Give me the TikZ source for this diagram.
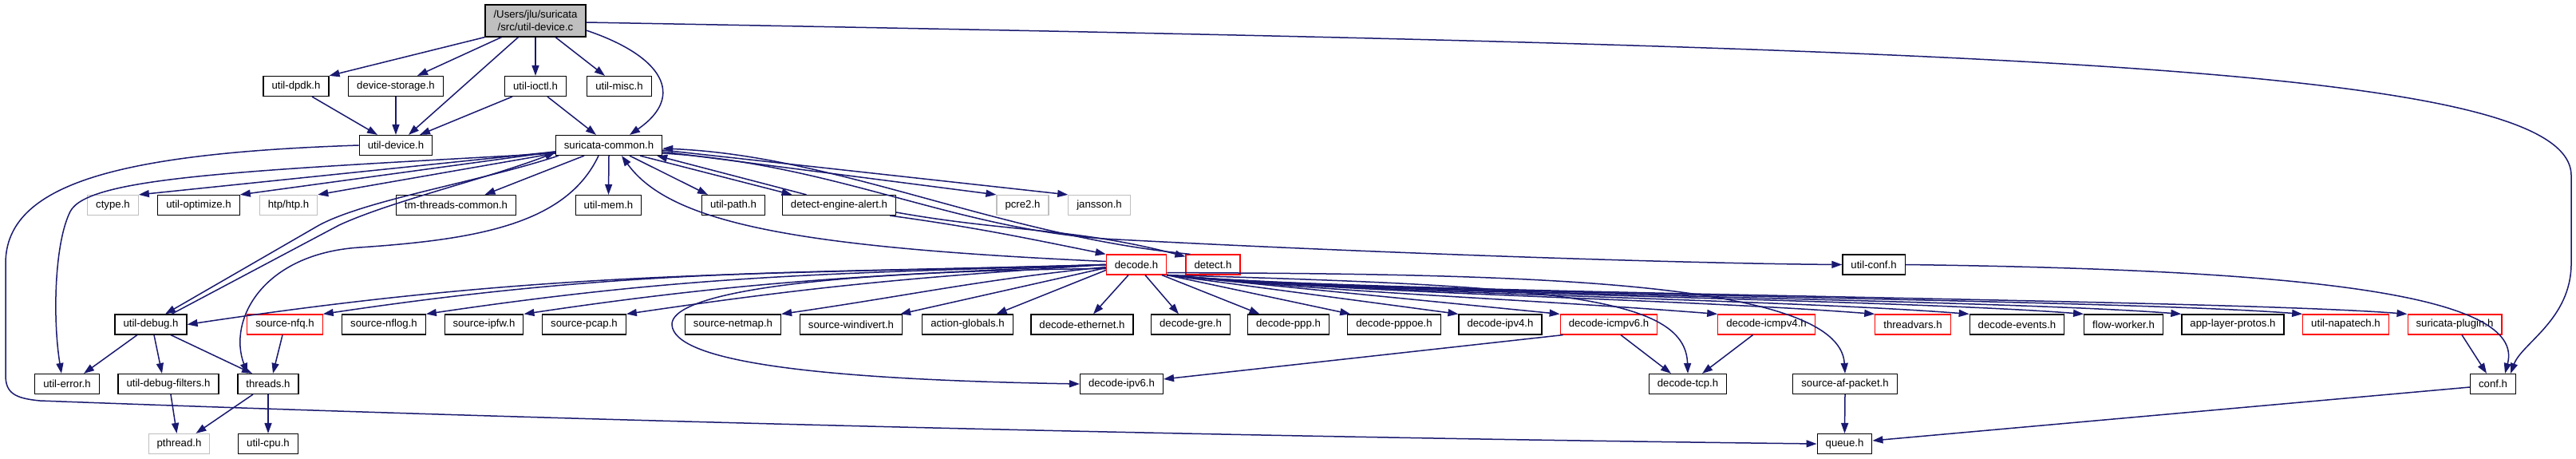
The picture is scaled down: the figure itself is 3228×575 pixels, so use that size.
\documentclass[tikz,border=0pt]{standalone}
\usepackage{fontspec}
\setmainfont{Liberation Sans}
\usetikzlibrary{arrows.meta,calc}
\definecolor{mblue}{HTML}{191970}
\definecolor{gr75}{HTML}{BFBFBF}
\definecolor{rdb}{HTML}{FF0000}
\tikzset{
  nd/.style={draw=black, line width=1.2pt, fill=white, inner xsep=10.5pt, inner ysep=0pt,
    minimum height=25pt, font=\fontsize{13.2}{15.5}\selectfont, text=black},
  grn/.style={nd, draw=gr75},
  rdn/.style={nd, draw=rdb},
  mainn/.style={nd, fill=gr75, align=center, minimum height=40pt},
  e/.style={draw=mblue, line width=1.5pt, -{Triangle[length=13pt,width=9pt]}},
}
\begin{document}
\begin{tikzpicture}[x=1pt,y=-1pt]
\fill[white] (0,0) rectangle (3228,575);
\useasboundingbox (0,0) rectangle (3228,575);
% nodes
\node[mainn] (main) at (671,26) {/Users/jlu/suricata\\/src/util-device.c};
\node[nd] (dpdk) at (371,108) {util-dpdk.h};
\node[nd] (devstor) at (496,108) {device-storage.h};
\node[nd] (ioctl) at (671,108) {util-ioctl.h};
\node[nd] (misc) at (776,108) {util-misc.h};
\node[nd] (udev) at (496,182) {util-device.h};
\node[nd] (common) at (763,182) {suricata-common.h};
\node[grn] (ctype) at (141.5,257) {ctype.h};
\node[nd] (optimize) at (249,257) {util-optimize.h};
\node[grn] (htp) at (361.5,257) {htp/htp.h};
\node[nd] (tmthreads) at (571.5,257) {tm-threads-common.h};
\node[nd] (mem) at (762.5,257) {util-mem.h};
\node[nd] (path) at (919,257) {util-path.h};
\node[nd] (dea) at (1051.5,257) {detect-engine-alert.h};
\node[grn] (pcre) at (1281.5,257) {pcre2.h};
\node[grn] (jansson) at (1377.5,257) {jansson.h};
\node[rdn] (decode) at (1424,331.5) {decode.h};
\node[rdn] (detect) at (1520,331.5) {detect.h};
\node[nd] (uconf) at (2348,331.5) {util-conf.h};
\node[nd] (debug) at (189,406.5) {util-debug.h};
\node[rdn] (nfq) at (357,406.5) {source-nfq.h};
\node[nd] (nflog) at (481,406.5) {source-nflog.h};
\node[nd] (ipfw) at (606.5,406.5) {source-ipfw.h};
\node[nd] (pcap) at (732,406.5) {source-pcap.h};
\node[nd] (netmap) at (918.5,406.5) {source-netmap.h};
\node[nd] (windivert) at (1066.5,406.5) {source-windivert.h};
\node[nd] (actglob) at (1212.5,406.5) {action-globals.h};
\node[nd] (eth) at (1356,406.5) {decode-ethernet.h};
\node[nd] (gre) at (1492,406.5) {decode-gre.h};
\node[nd] (ppp) at (1614.5,406.5) {decode-ppp.h};
\node[nd] (pppoe) at (1747,406.5) {decode-pppoe.h};
\node[nd] (ipv4) at (1880,406.5) {decode-ipv4.h};
\node[rdn] (icmpv6) at (2016,406.5) {decode-icmpv6.h};
\node[rdn] (icmpv4) at (2213.5,406.5) {decode-icmpv4.h};
\node[rdn] (threadvars) at (2397,406.5) {threadvars.h};
\node[nd] (events) at (2527.5,406.5) {decode-events.h};
\node[nd] (flowworker) at (2661,406.5) {flow-worker.h};
\node[nd] (alproto) at (2798,406.5) {app-layer-protos.h};
\node[rdn] (napatech) at (2939.5,406.5) {util-napatech.h};
\node[rdn] (plugin) at (3076,406.5) {suricata-plugin.h};
\node[nd] (uerror) at (84,481) {util-error.h};
\node[nd] (dfilters) at (211,481) {util-debug-filters.h};
\node[nd] (threads) at (336,481) {threads.h};
\node[nd] (ipv6) at (1405.5,481) {decode-ipv6.h};
\node[nd] (tcp) at (2115,481) {decode-tcp.h};
\node[nd] (afpacket) at (2312,481) {source-af-packet.h};
\node[nd] (conf) at (3124,481) {conf.h};
\node[grn] (pthread) at (224.5,556) {pthread.h};
\node[nd] (cpu) at (336,556) {util-cpu.h};
\node[nd] (queue) at (2311.5,556) {queue.h};
% edges from main
\draw[e] (main.south west) -- (dpdk.north east);
\draw[e] ($(main.south west)+(21,0)$) -- ($(devstor.north)+(27,0)$);
\draw[e] ($(main.south west)+(42,0)$) -- ($(udev.north)+(16,0)$);
\draw[e] (main.south) -- (ioctl.north);
\draw[e] ($(main.south)+(25,0)$) -- ($(misc.north)+(-18,0)$);
\draw[e] ($(main.east)+(0,12)$) .. controls (830,70) and (860,120) .. ($(common.north)+(26,0)$);
\draw[e] ($(main.east)+(0,2)$) .. controls (2500,60) and (3222,80) .. (3222,220) -- (3222,330) .. controls (3222,400) and (3160,430) .. ($(conf.north)+(22,0)$);
% level 1
\draw[e] ($(dpdk.south)+(20,0)$) -- ($(udev.north)+(-23,0)$);
\draw[e] (devstor.south) -- (udev.north);
\draw[e] ($(ioctl.south)+(-29,0)$) -- ($(udev.north)+(30,0)$);
\draw[e] ($(ioctl.south)+(15,0)$) -- ($(common.north)+(-16,0)$);
% util-device -> queue
\draw[e] (udev.west) .. controls (150,192) and (7,230) .. (7,330) -- (7,470) .. controls (7,492) and (18,499) .. (50,502) .. controls (800,530) and (1600,548) .. (queue.west);
% suricata-common
\draw[e] ($(common.west)+(0,8)$) -- (ctype.north east);
\draw[e] ($(common.west)+(0,8)$) -- (optimize.north east);
\draw[e] ($(common.west)+(0,10)$) -- (htp.north east);
\draw[e] ($(common.south)+(-31,0)$) -- ($(tmthreads.north)+(36,0)$);
\draw[e] (common.south) -- (mem.north);
\draw[e] ($(common.south)+(26,0)$) -- ($(path.north)+(-32,0)$);
\draw[e] ($(common.south)+(39,0)$) -- ($(dea.north)+(-59,0)$);
\draw[e] ($(dea.north)+(-41,0)$) -- ($(common.south east)+(-7,0)$);
\draw[e] ($(common.east)+(0,8)$) -- (pcre.north west);
\draw[e] ($(common.east)+(0,6)$) -- (jansson.north west);
\draw[e] ($(common.east)+(0,10)$) .. controls (1050,205) and (1200,290) .. (1400,300) .. controls (1700,316) and (2100,330) .. (uconf.west);
\draw[e] ($(detect.north west)+(6,0)$) .. controls (1250,295) and (1050,195) .. ($(common.east)+(0,4)$);
\draw[e] ($(common.west)+(0,10)$) .. controls (300,214) and (110,222) .. (88,265) .. controls (68,305) and (66,400) .. ($(uerror.north)+(-7,0)$);
\draw[e] ($(common.south)+(-13,0)$) .. controls (710,280) and (600,300) .. (450,310) .. controls (330,318) and (285,400) .. ($(threads.north)+(-26,0)$);
\draw[e] ($(common.south west)+(4,0)$) .. controls (600,228) and (460,250) .. (400,282) -- ($(debug.north)+(18,0)$);
\draw[e] ($(debug.north)+(26,0)$) -- (425,282) .. controls (490,252) and (610,224) .. ($(common.south west)+(0,-4)$);
% detect-engine-alert
\draw[e] ($(dea.south east)+(-8,0)$) .. controls (1220,284.5) and (1280,297) .. (decode.north west);
\draw[e] ($(dea.east)+(0,9)$) .. controls (1263,291) and (1346,285) .. ($(detect.north west)+(0,3)$);
% decode
\draw[e] ($(decode.west)+(0,-4)$) .. controls (1000,310) and (840,280) .. ($(common.south)+(16,0)$);
\draw[e] (decode.west) .. controls (935,345) and (695,337.5) .. (debug.east);
\draw[e] (decode.west) .. controls (1000,343) and (797,335) .. (nfq.north east);
\draw[e] (decode.west) .. controls (1050,343) and (874,343) .. (nflog.north east);
\draw[e] (decode.west) .. controls (1100,345) and (948,350) .. (ipfw.north east);
\draw[e] (decode.west) .. controls (1150,347) and (1025,358) .. (pcap.north east);
\draw[e] ($(decode.west)+(0,3)$) .. controls (1230,350) and (1141,370) .. (netmap.north east);
\draw[e] ($(decode.west)+(0,4)$) -- ($(windivert.north east)+(-3,0)$);
\draw[e] ($(decode.west)+(0,7)$) -- ($(actglob.north)+(36,0)$);
\draw[e] ($(decode.south)+(-10,0)$) -- ($(eth.north)+(14,0)$);
\draw[e] ($(decode.south)+(11,0)$) -- ($(gre.north)+(-15,0)$);
\draw[e] ($(decode.south)+(32,0)$) -- ($(ppp.north)+(-36,0)$);
\draw[e] (decode.south east) -- ($(pppoe.north west)+(4,0)$);
\draw[e] (decode.south east) -- (ipv4.north west);
\draw[e] (decode.south east) -- (icmpv6.north west);
\draw[e] (decode.south east) .. controls (1700,368) and (1903,374) .. (icmpv4.north west);
\draw[e] (decode.south east) .. controls (1700,368) and (2100,374) .. (threadvars.north west);
\draw[e] (decode.south east) .. controls (1700,368) and (2218,374) .. (events.north west);
\draw[e] (decode.south east) .. controls (1700,368) and (2362,374) .. (flowworker.north west);
\draw[e] (decode.south east) .. controls (1700,368) and (2485,374) .. (alproto.north west);
\draw[e] (decode.south east) .. controls (1700,368) and (2636,374) .. (napatech.north west);
\draw[e] (decode.south east) .. controls (1700,368) and (2767,374) .. (plugin.north west);
\draw[e] (decode.south east) .. controls (1950,358) and (2112,372) .. (tcp.north);
\draw[e] ($(decode.south east)+(0,-3)$) .. controls (1900,343) and (2305,350) .. (afpacket.north);
\draw[e] ($(decode.west)+(0,5)$) .. controls (1000,340) and (840,370) .. (842,407) .. controls (845,450) and (1000,475) .. (ipv6.west);
% lower
\draw[e] ($(icmpv6.south west)+(4,0)$) -- ($(ipv6.east)+(0,-6)$);
\draw[e] ($(icmpv6.south)+(15,0)$) -- ($(tcp.north)+(-21,0)$);
\draw[e] ($(icmpv4.south)+(-17,0)$) -- ($(tcp.north)+(18,0)$);
\draw[e] (afpacket.south) -- (queue.north);
\draw[e] ($(conf.west)+(0,4)$) -- ($(queue.east)+(0,-4)$);
\draw[e] (uconf.east) .. controls (2900,338) and (3165,370) .. ($(conf.north)+(15,0)$);
\draw[e] ($(plugin.south)+(9,0)$) -- ($(conf.north)+(-8,0)$);
\draw[e] ($(nfq.south)+(-3,0)$) -- ($(threads.north)+(6,0)$);
\draw[e] ($(debug.south)+(-17,0)$) -- ($(uerror.north)+(21,0)$);
\draw[e] ($(debug.south)+(4,0)$) -- ($(dfilters.north)+(-8,0)$);
\draw[e] ($(debug.south)+(25,0)$) -- ($(threads.north)+(-20,0)$);
\draw[e] ($(dfilters.south)+(3,0)$) -- ($(pthread.north)+(-3,0)$);
\draw[e] ($(threads.south)+(-19,0)$) -- ($(pthread.north)+(21,0)$);
\draw[e] (threads.south) -- (cpu.north);
\end{tikzpicture}
\end{document}
